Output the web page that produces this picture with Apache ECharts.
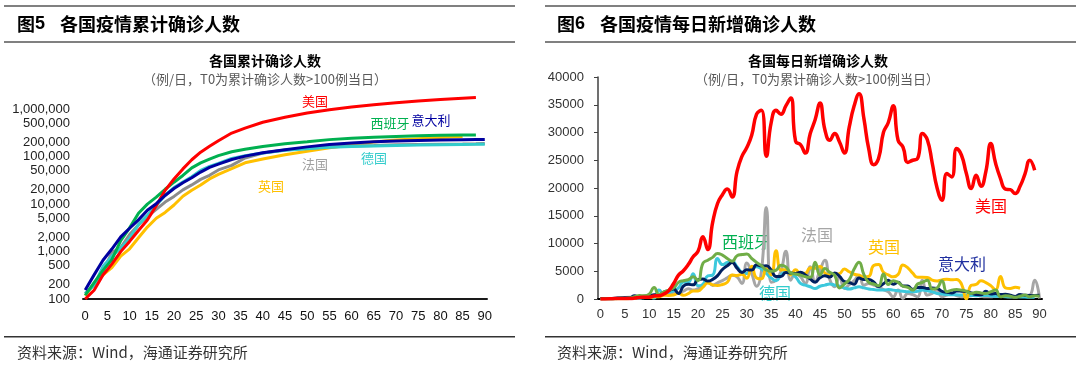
<!DOCTYPE html>
<html><head><meta charset="utf-8">
<script src="https://cdn.jsdelivr.net/npm/echarts@6/dist/echarts.min.js"></script>
<style>html,body{margin:0;padding:0;background:#fff}#c{width:1080px;height:368px}</style>
</head><body><div id="c"></div>
<script>
// ---------- categories (days since T0) ----------
const dayCats = [];
for (let i = 0; i <= 90; i++) dayCats.push(String(i));

// ---------- left: cumulative cases (log scale) ----------
const logTickValues = [100,200,500,1000,2000,5000,10000,20000,50000,100000,200000,500000,1000000];
const cumDays = [0,2,4,6,8,10,12,14,16,18,20,22,24,26,28,30,33,36,40,45,50,55,60,65,70,75,80,85,88,90];
const cumUS = [100,153,319,541,994,1630,2770,4596,9197,19367,33592,54856,85435,123578,163788,215003,311357,396223,526396,667801,825306,965783,1103461,1228603,1347881,1467820,1577147,1681418,1746000,null];
const cumIT = [155,322,655,1128,2036,3089,4636,7375,10149,15113,21157,27980,35713,47021,59138,69176,86498,101739,119827,139422,159516,178972,192994,203591,211938,218268,222104,225886,228006,229327];
const cumES = [120,222,400,673,1695,3146,6391,9942,13910,20410,28768,39885,57786,73235,87956,104118,126168,141942,163027,184948,204178,226629,242988,253682,264663,274367,280117,283339,285000,null];
const cumDE = [130,196,482,799,1176,1908,3675,5795,9257,15320,22213,29056,37323,50871,62095,71808,91159,103375,118181,134753,145742,156337,163009,167007,171324,174355,177778,179986,181000,182000];
const cumFR = [130,204,377,949,1209,2281,3661,5423,7730,10995,14459,19856,25233,32964,40174,52128,65000,93000,118000,137000,150000,159000,167000,170500,176000,179000,181500,183000,186000,188500];
const cumUK = [116,207,322,459,801,1140,1950,3269,5018,6650,9529,14543,19522,25150,33718,41903,55242,73758,88621,108692,129044,152840,177454,201101,223060,236711,250908,262547,null,null];

// ---------- right: daily new cases ----------
const dailyUS = [20,20,30,70,100,110,110,160,290,310,330,550,590,900,
1500,2800,4300,5100,6200,7600,8600,11200,8900,13800,
17200,18800,19800,18400,23000,25700,27300,29500,33300,34000,
25700,31800,34000,33300,34800,36200,28400,27800,26300,29800,
32300,35300,30500,28600,29800,28300,26300,31000,34800,37000,
32500,27000,24200,25300,30000,31800,34800,28600,27400,24600,
25000,25300,29800,28700,24500,20000,17800,22600,22000,27100,
25900,22600,19900,22300,20300,23000,28000,24400,21700,19800,
19700,19000,20300,22500,25000,23200];
const dailyES = [20,45,57,37,141,100,173,400,622,582,869,2086,
800,1300,1600,2000,3000,3300,3500,4000,3300,6400,
7000,7500,8200,7900,7300,6800,7800,8000,8100,7300,
6600,6000,5200,5000,5200,6100,5800,4700,4500,4300,
4000,3900,6600,4300,5500,4800,4300,2000,2700,3500,
5400,6600,4400,3000,2700,2400,4500,2600,3300,3000,
2300,2100,1600,2700,3000,3400,1800,2000,3300,1300,
1600,1700,1600,1400,1000,1200,1100,1000,1300,1600,
400,600,500,300,500,700,400,600,500];
const dailyIT = [76,74,93,131,202,233,240,566,342,466,
587,769,778,1247,1492,1797,977,2313,2651,2547,
3497,3590,3233,3526,4207,5322,5986,6557,5560,4789,
5249,5210,6153,5959,5974,5217,4050,4053,4782,4668,
4585,4805,4316,3599,3039,3836,4204,3951,4694,4092,
3153,2972,2667,3786,3493,3491,3047,2256,2729,3370,
2646,3021,2357,2324,1739,2091,2086,1872,1965,1900,
1389,1221,1075,1444,1401,1327,1083,802,744,1402,
888,992,789,875,675,451,813,665,642,652,669];
const dailyDE = [60,30,40,70,220,190,130,240,140,280,
450,170,1600,910,1210,1480,1990,3070,2990,4530,
2370,2660,4180,4300,7300,6200,6600,6800,5800,4800,
4600,5600,5800,5400,4600,3800,3300,4300,4900,4500,
4000,2800,2500,2200,1900,2300,2500,2700,2500,2300,
2000,1800,2000,2200,2000,1800,1700,1600,1600,1700,
1600,1500,1400,1300,1300,1400,1600,1500,1300,1000,
900,800,750,750,700,700,650,600,650,650,
550,500,450,400,380,400,380,350,320,300];
const dailyFR = [30,60,15,80,90,280,300,180,80,580,
500,600,790,840,920,1210,1100,1400,1860,1620,
1850,2230,3170,2450,2930,3300,3800,4300,4000,2800,
6500,4600,2300,5000,16500,3000,3400,5000,8600,3400,
4600,4000,2800,5800,3100,5200,7000,3500,2200,4000,
1900,2600,3300,4300,2500,2800,2500,2200,1700,1300,
400,1600,100,1000,800,400,3400,700,1000,1600,
400,700,1000,600,400,500,600,700,500,400,
400,500,500,450,400,400,500,600,700,3400,
100];
const dailyUK = [30,50,45,65,50,60,75,130,340,340,
250,400,410,680,640,710,1040,670,970,1430,
1450,2130,2890,2550,2430,2620,3010,4320,4240,4450,
3740,5900,3800,3630,5490,4340,8680,5230,5290,4340,
5250,4600,4620,5600,5530,5850,4680,4300,4450,4580,
5390,4910,4460,4310,4000,4080,6030,6200,4810,4340,
3990,4410,6110,5610,4650,3900,3920,3880,3400,3240,
3450,3560,3450,3530,2680,50,2470,2620,3290,2960,
2410,1630,4040,2010,1890,2100,1940];

// ---------- build ----------
const NUM = '"Liberation Sans", Arial, sans-serif';
const CJK = '"Noto Sans CJK SC", sans-serif';

function cumPairs(arr) {
  const out = [];
  arr.forEach((v, i) => { if (v != null) out.push([cumDays[i], Math.log10(v)]); });
  return out;
}
function leftLine(name, arr, color) {
  return { name, type: 'line', xAxisIndex: 0, yAxisIndex: 0, data: cumPairs(arr),
    symbol: 'none', smooth: false, lineStyle: { width: 3, color }, itemStyle: { color } };
}
function rightLine(name, arr, color, w) {
  return { name, type: 'line', xAxisIndex: 1, yAxisIndex: 1, data: arr,
    symbol: 'none', smooth: true, lineStyle: { width: w || 3, color }, itemStyle: { color } };
}
function txt(x, y, text, font, fill, align) {
  return { type: 'text', x, y, silent: true,
    style: { text, font, fill, align: align || 'left', verticalAlign: 'middle',
             textAlign: align || 'left', textVerticalAlign: 'middle' } };
}
function rule(x, y, w, h, fill) {
  return { type: 'rect', silent: true, shape: { x, y, width: w, height: h }, style: { fill } };
}

const chart = echarts.init(document.getElementById('c'));
chart.setOption({
  animation: false,
  backgroundColor: '#fff',
  textStyle: { fontFamily: NUM },
  grid: [
    { left: 83, top: 90, width: 404, height: 209 },
    { left: 598, top: 77, width: 444, height: 222 }
  ],
  xAxis: [
    { gridIndex: 0, type: 'category', data: dayCats, boundaryGap: true,
      axisLine: { lineStyle: { color: '#1a1a1a', width: 2 } }, axisTick: { show: false },
      axisLabel: { interval: 4, fontSize: 13, color: '#111', margin: 11, fontFamily: NUM } },
    { gridIndex: 1, type: 'category', data: dayCats, boundaryGap: true,
      axisLine: { lineStyle: { color: '#000', width: 2 } }, axisTick: { show: false },
      axisLabel: { interval: 4, fontSize: 13, color: '#333', margin: 9, fontFamily: NUM } }
  ],
  yAxis: [
    { gridIndex: 0, type: 'value', min: 2, max: 6.4,
      axisLine: { show: false }, axisTick: { show: false }, splitLine: { show: false },
      axisLabel: { customValues: logTickValues.map(v => Math.log10(v)),
        formatter: v => Math.round(Math.pow(10, v)).toLocaleString('en-US'),
        fontSize: 13, color: '#222', margin: 13, fontFamily: NUM } },
    { gridIndex: 1, type: 'value', min: 0, max: 40000, interval: 5000,
      axisLine: { show: true, lineStyle: { color: '#404040', width: 1.5 } },
      axisTick: { show: true, length: 4, lineStyle: { color: '#404040' } },
      splitLine: { show: false },
      axisLabel: { formatter: v => String(v), fontSize: 13, color: '#333', margin: 14, fontFamily: NUM } }
  ],
  series: [
    leftLine('英国', cumUK, '#FFC000'),
    leftLine('法国', cumFR, '#8C8C8C'),
    leftLine('德国', cumDE, '#33CCCC'),
    leftLine('西班牙', cumES, '#00B050'),
    leftLine('美国', cumUS, '#FF0000'),
    leftLine('意大利', cumIT, '#0000A0'),
    rightLine('法国', dailyFR, '#A6A6A6'),
    rightLine('德国', dailyDE, '#3CC8DC'),
    rightLine('英国', dailyUK, '#FFC000'),
    rightLine('意大利', dailyIT, '#002060'),
    rightLine('西班牙', dailyES, '#70AD47'),
    rightLine('美国', dailyUS, '#FF0000', 3.5)
  ],
  graphic: [
    rule(4, 5, 511, 2, '#808080'), rule(545, 5, 531, 2, '#808080'),
    rule(4, 41, 511, 2, '#808080'), rule(545, 41, 531, 2, '#808080'),
    rule(4, 336, 511, 1.5, '#333'), rule(545, 336, 531, 1.5, '#333'),
    txt(17, 24, '图', 'bold 18px ' + CJK, '#000'),
    txt(35, 24, '5', 'bold 18px ' + NUM, '#000'),
    txt(60, 24, '各国疫情累计确诊人数', 'bold 18px ' + CJK, '#000'),
    txt(557, 24, '图', 'bold 18px ' + CJK, '#000'),
    txt(575, 24, '6', 'bold 18px ' + NUM, '#000'),
    txt(600, 24, '各国疫情每日新增确诊人数', 'bold 18px ' + CJK, '#000'),
    txt(265, 61, '各国累计确诊人数', 'bold 14px ' + CJK, '#000', 'center'),
    txt(265, 79, '（例/日，T0为累计确诊人数>100例当日）', '13px ' + CJK, '#595959', 'center'),
    txt(818, 61, '各国每日新增确诊人数', 'bold 14px ' + CJK, '#000', 'center'),
    txt(817, 79, '（例/日，T0为累计确诊人数>100例当日）', '13px ' + CJK, '#595959', 'center'),
    txt(17, 352, '资料来源：Wind，海通证券研究所', '15px ' + CJK, '#333'),
    txt(557, 352, '资料来源：Wind，海通证券研究所', '15px ' + CJK, '#333'),
    // left series labels
    txt(315, 101, '美国', '13px ' + CJK, '#FF0000', 'center'),
    txt(390, 123, '西班牙', '13px ' + CJK, '#00B050', 'center'),
    txt(431, 120, '意大利', '13px ' + CJK, '#0000A0', 'center'),
    txt(374, 158, '德国', '13px ' + CJK, '#33CCCC', 'center'),
    txt(315, 164, '法国', '13px ' + CJK, '#A0A0A0', 'center'),
    txt(271, 186, '英国', '13px ' + CJK, '#FFC000', 'center'),
    // right series labels
    txt(991, 206, '美国', '16px ' + CJK, '#FF0000', 'center'),
    txt(746, 242, '西班牙', '16px ' + CJK, '#00B050', 'center'),
    txt(817, 235, '法国', '16px ' + CJK, '#A6A6A6', 'center'),
    txt(884, 247, '英国', '16px ' + CJK, '#FFC000', 'center'),
    txt(962, 264, '意大利', '16px ' + CJK, '#1F2F9F', 'center'),
    txt(775, 293, '德国', '16px ' + CJK, '#33CCCC', 'center')
  ]
});
</script>
</body></html>
